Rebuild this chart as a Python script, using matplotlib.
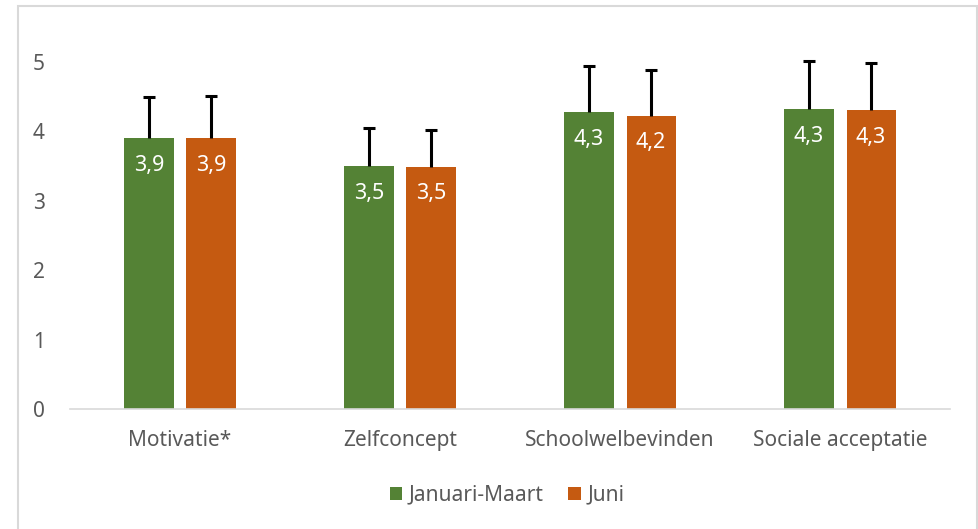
import numpy as np
import matplotlib.pyplot as plt
from matplotlib.patches import Rectangle

# data
categories = ['Motivatie*', 'Zelfconcept', 'Schoolwelbevinden', 'Sociale acceptatie']
series_names = ['Januari-Maart', 'Juni']
jan_maart = [3.90, 3.50, 4.28, 4.32]
juni = [3.90, 3.49, 4.23, 4.31]
jan_err = [0.60, 0.55, 0.67, 0.69]
juni_err = [0.61, 0.53, 0.65, 0.68]

GREEN = '#548235'
ORANGE = '#C55A11'
GRAY = '#595959'

plt.rcParams['font.family'] = ['Noto Sans', 'DejaVu Sans']

fig = plt.figure(figsize=(9.79, 5.29), dpi=100)
ax = fig.add_axes([0.0715, 0.2268, 0.8989, 0.7280])

# chart border like the office chart frame
fig.patches.append(Rectangle((18 / 979, -0.01), (977 - 18) / 979, 1 - 6 / 529 + 0.01,
                             transform=fig.transFigure, fill=False,
                             edgecolor='#D9D9D9', lw=1.5))

x = np.arange(len(categories))
w = 0.223
gap = 0.059
pos1 = x - (w + gap) / 2
pos2 = x + (w + gap) / 2

b1 = ax.bar(pos1, jan_maart, w, color=GREEN, label=series_names[0], zorder=2)
b2 = ax.bar(pos2, juni, w, color=ORANGE, label=series_names[1], zorder=2)

# only the upper whisker, like the office chart
for pos, vals, errs in ((pos1, jan_maart, jan_err), (pos2, juni, juni_err)):
    eb = ax.errorbar(pos, vals, yerr=[np.zeros(4), errs], fmt='none',
                     ecolor='black', elinewidth=2.2, capsize=4.5, capthick=2.2, zorder=3)
    eb[1][0].set_visible(False)

for bars, vals in ((b1, jan_maart), (b2, juni)):
    for b, v in zip(bars, vals):
        ax.text(b.get_x() + b.get_width() / 2, v - 0.39,
                f'{v:.1f}'.replace('.', ','), ha='center', va='center',
                color='white', fontsize=15.5, zorder=4)

ax.set_xlim(-0.5, 3.5)
ax.set_ylim(0, 5.55)
ax.set_yticks([0, 1, 2, 3, 4, 5])
ax.set_xticks(x)
ax.set_xticklabels(categories)
ax.tick_params(axis='both', length=0, colors=GRAY, labelsize=15)
ax.tick_params(axis='y', pad=18)
ax.tick_params(axis='x', pad=15)

for s in ['top', 'right', 'left']:
    ax.spines[s].set_visible(False)
ax.spines['bottom'].set_color('#D9D9D9')
ax.spines['bottom'].set_linewidth(1.2)

leg = fig.legend(loc='center', bbox_to_anchor=(507 / 979, 1 - 495 / 529), ncol=2,
                 frameon=False, fontsize=15, handlelength=0.6, handleheight=0.6,
                 handletextpad=0.3, columnspacing=1.2)
for t in leg.get_texts():
    t.set_color(GRAY)

fig.savefig('out.png', dpi=100)
